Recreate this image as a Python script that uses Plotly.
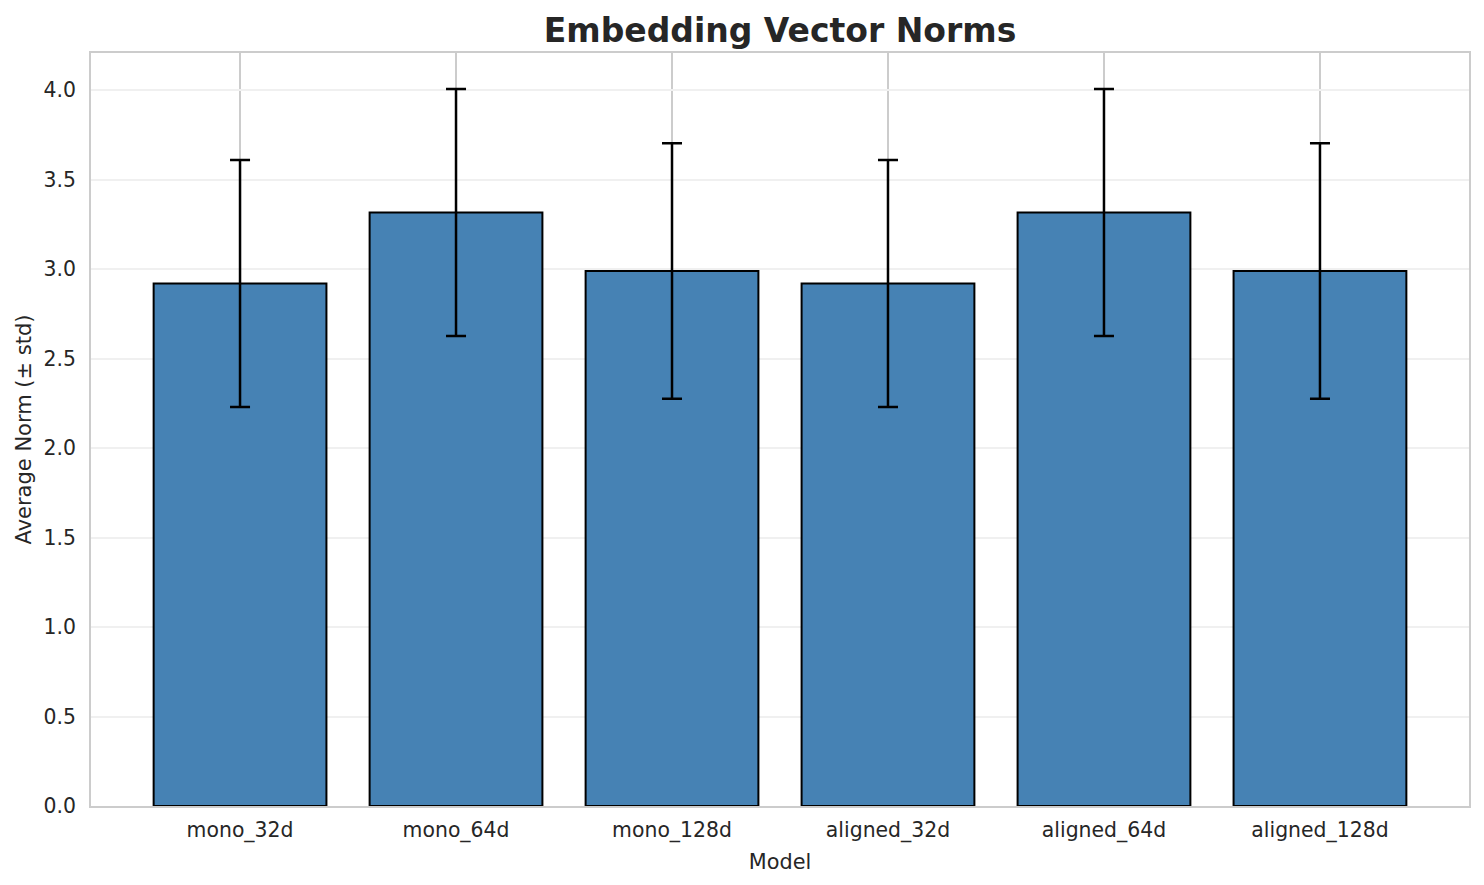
import plotly.graph_objects as go

models = ["mono_32d", "mono_64d", "mono_128d", "aligned_32d", "aligned_64d", "aligned_128d"]
mean_norms = [2.92, 3.317, 2.99, 2.92, 3.317, 2.99]
std_norms = [0.69, 0.69, 0.714, 0.69, 0.69, 0.714]

TEXT = "#262626"
FONT = "DejaVu Sans"

fig = go.Figure()
fig.add_trace(go.Bar(
    x=models,
    y=mean_norms,
    marker=dict(color="#4682B4", line=dict(color="black", width=2)),
    error_y=dict(type="data", array=std_norms, visible=True,
                 color="black", thickness=2.5, width=10),
    width=0.8,
))

fig.update_layout(
    width=1484, height=885,
    margin=dict(l=83, r=23, t=45, b=87),
    plot_bgcolor="white", paper_bgcolor="white",
    font=dict(family=FONT, color=TEXT, size=20),
    showlegend=False,
    title=dict(text="<b>Embedding Vector Norms</b>", x=0.5, xref="paper",
               y=1 - 22 / 885, yref="container", yanchor="middle",
               xanchor="center", font=dict(family=FONT, size=33, color=TEXT)),
)
fig.update_xaxes(
    range=[-0.69, 5.69],
    showgrid=True, gridcolor="#cccccc", gridwidth=2,
    showline=True, linecolor="#cccccc", linewidth=2, mirror=True,
    ticks="outside", ticklen=5, tickcolor="rgba(0,0,0,0)",
    tickfont=dict(size=20.4, color=TEXT),
    title=dict(text="Model", font=dict(size=20.8, color=TEXT), standoff=12),
    zeroline=False,
)
fig.update_yaxes(
    range=[0, 4.208],
    tickvals=[0, 0.5, 1.0, 1.5, 2.0, 2.5, 3.0, 3.5, 4.0],
    ticktext=["0.0", "0.5", "1.0", "1.5", "2.0", "2.5", "3.0", "3.5", "4.0"],
    showgrid=True, gridcolor="#f0f0f0", gridwidth=2,
    showline=True, linecolor="#cccccc", linewidth=2, mirror=True,
    ticks="outside", ticklen=9, tickcolor="rgba(0,0,0,0)",
    tickfont=dict(size=20.4, color=TEXT),
    title=dict(text="Average Norm (± std)", font=dict(size=21, color=TEXT), standoff=6),
    zeroline=False,
)

fig.write_html("out.html")
